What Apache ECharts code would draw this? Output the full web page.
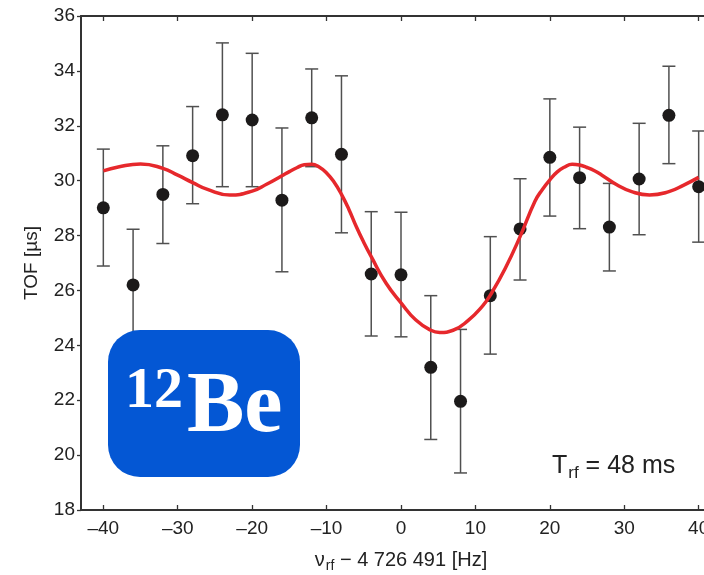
<!DOCTYPE html>
<html>
<head>
<meta charset="utf-8">
<script src="https://cdn.jsdelivr.net/npm/echarts@6/dist/echarts.min.js"></script>
<style>
html,body{margin:0;padding:0;background:#fff;}
#chart{width:704px;height:575px;}
</style>
</head>
<body>
<div id="chart"></div>
<script>
// ---- data ----
const freqOffsets = [-40,-36,-32,-28,-24,-20,-16,-12,-8,-4,0,4,8,12,16,20,24,28,32,36,40];
const tofValues   = [29.01,26.20,29.50,30.91,32.40,32.21,29.29,32.29,30.96,26.60,26.57,23.20,21.96,25.81,28.24,30.85,30.11,28.31,30.06,32.38,29.78];
const tofErrHigh  = [31.15,28.23,31.27,32.70,35.02,34.64,31.92,34.07,33.82,28.87,28.85,25.81,24.58,27.96,30.07,32.98,31.95,29.90,32.09,34.17,31.81];
const tofErrLow   = [26.89,24.20,27.71,29.16,29.78,29.78,26.68,30.51,28.10,24.34,24.31,20.57,19.35,23.68,26.38,28.71,28.25,26.71,28.03,30.62,27.76];

const fitX = [-40,-38,-35,-32,-30,-28,-26,-23,-20,-18,-16,-15,-14,-13,-12,-11,-10,-9,-8,-7,-6,-5,-4,-2,0,2,4,5.2,7,9,11,12,14,16,18,19,20,21,22,23,24,25,26,27,29,31,33.4,36,38,40];
const fitY = [30.36,30.50,30.61,30.45,30.20,29.93,29.68,29.48,29.62,29.88,30.18,30.33,30.47,30.58,30.60,30.50,30.28,29.95,29.50,28.95,28.32,27.75,27.23,26.26,25.55,24.92,24.55,24.47,24.55,24.90,25.45,25.83,26.80,27.96,29.25,29.68,30.03,30.32,30.50,30.60,30.57,30.48,30.36,30.20,29.85,29.60,29.48,29.60,29.84,30.12];

const xTicks = [-40,-30,-20,-10,0,10,20,30,40];
const yTicks = [18,20,22,24,26,28,30,32,34,36];

const xTitle = 'ν';
const xTitleSub = 'rf';
const xTitleRest = ' \u2212 4 726 491 [Hz]';
const yTitle = 'TOF [µs]';
const badgeMass = '12';
const badgeElement = 'Be';
const trfMain = 'T';
const trfSub = 'rf';
const trfRest = ' = 48 ms';

// ---- chart ----
const chart = echarts.init(document.getElementById('chart'), null, {renderer: 'canvas'});
const FONT = '"Liberation Sans", Arial, Helvetica, sans-serif';
const SERIF = '"Liberation Serif", "DejaVu Serif", serif';
const axisColor = '#333';

const errData = freqOffsets.map((x, i) => [x, tofErrLow[i], tofErrHigh[i]]);
const dotData = freqOffsets.map((x, i) => [x, tofValues[i]]);
const fitData = fitX.map((x, i) => [x, fitY[i]]);

const fmtMinus = v => String(v).replace('-', '\u2013');

const option = {
  animation: false,
  backgroundColor: '#fff',
  grid: {left: 81, top: 16, bottom: 65, right: -17, containLabel: false, outerBoundsMode: 'none'},
  xAxis: [{
    type: 'value', min: -43, max: 43, position: 'bottom',
    axisLine: {show: true, onZero: false, lineStyle: {color: axisColor, width: 2}},
    axisTick: {show: true, inside: true, length: 5, customValues: xTicks, lineStyle: {color: axisColor, width: 1.3}},
    axisLabel: {show: true, customValues: xTicks, formatter: fmtMinus, fontSize: 19, color: '#222', fontFamily: FONT, margin: 9},
    splitLine: {show: false},
    name: '{a|' + xTitle + '}{b|' + xTitleSub + '}{a|' + xTitleRest + '}',
    nameLocation: 'middle', nameGap: 37,
    nameTextStyle: {
      rich: {
        a: {fontSize: 20, fontFamily: FONT, color: '#222'},
        b: {fontSize: 14, fontFamily: FONT, color: '#222', padding: [12, 0, 0, 1]}
      }
    }
  }, {
    type: 'value', min: -43, max: 43, position: 'top',
    axisLine: {show: true, onZero: false, lineStyle: {color: axisColor, width: 2}},
    axisTick: {show: true, inside: true, length: 5, customValues: xTicks, lineStyle: {color: axisColor, width: 1.3}},
    axisLabel: {show: false},
    splitLine: {show: false}
  }],
  yAxis: [{
    type: 'value', min: 18, max: 36, interval: 2, position: 'left',
    axisLine: {show: true, onZero: false, lineStyle: {color: axisColor, width: 2}},
    axisTick: {show: true, inside: false, length: 4, lineStyle: {color: axisColor, width: 1.3}},
    axisLabel: {show: true, fontSize: 19, color: '#222', fontFamily: FONT, margin: 6},
    splitLine: {show: false},
    name: yTitle, nameLocation: 'middle', nameGap: 40,
    nameTextStyle: {fontSize: 19, fontFamily: FONT, color: '#222'}
  }, {
    type: 'value', min: 18, max: 36, interval: 2, position: 'right',
    axisLine: {show: true, onZero: false, lineStyle: {color: axisColor, width: 2}},
    axisTick: {show: false}, axisLabel: {show: false}, splitLine: {show: false}
  }],
  series: [{
    type: 'custom',
    name: 'err',
    data: errData,
    z: 2,
    renderItem: function (params, api) {
      const x = api.value(0);
      const lo = api.coord([x, api.value(1)]);
      const hi = api.coord([x, api.value(2)]);
      const w = 6.5;
      const st = {stroke: '#505050', lineWidth: 1.5};
      return {
        type: 'group',
        children: [
          {type: 'line', shape: {x1: lo[0], y1: lo[1], x2: hi[0], y2: hi[1]}, style: st},
          {type: 'line', shape: {x1: hi[0] - w, y1: hi[1], x2: hi[0] + w, y2: hi[1]}, style: st},
          {type: 'line', shape: {x1: lo[0] - w, y1: lo[1], x2: lo[0] + w, y2: lo[1]}, style: st}
        ]
      };
    }
  }, {
    type: 'scatter',
    data: dotData,
    symbol: 'circle',
    symbolSize: 13,
    itemStyle: {color: '#1c1a1a', opacity: 1},
    z: 3
  }, {
    type: 'line',
    data: fitData,
    showSymbol: false,
    symbol: 'none',
    smooth: 0.5,
    lineStyle: {color: '#e6282c', width: 3.5},
    z: 4
  }],
  graphic: [{
    type: 'group',
    z: 100,
    children: [{
      type: 'rect',
      shape: {x: 108, y: 330, width: 192, height: 147, r: 32},
      style: {fill: '#0457d4'},
      z: 100
    }, {
      type: 'text',
      x: 125, y: 392,
      style: {text: badgeMass, font: 'bold 58px ' + SERIF, fill: '#fff', verticalAlign: 'middle', align: 'left'},
      z: 101
    }, {
      type: 'text',
      x: 187, y: 409,
      style: {text: badgeElement, font: 'bold 86px ' + SERIF, fill: '#fff', verticalAlign: 'middle', align: 'left'},
      z: 101
    }]
  }, {
    type: 'text',
    x: 552, y: 466,
    z: 100,
    style: {
      text: '{a|' + trfMain + '}{b|' + trfSub + '}{a|' + trfRest + '}',
      verticalAlign: 'middle',
      align: 'left',
      rich: {
        a: {fontSize: 25, fontFamily: FONT, fill: '#222', color: '#222'},
        b: {fontSize: 17, fontFamily: FONT, fill: '#222', color: '#222', padding: [14, 0, 0, 1]}
      }
    }
  }]
};
chart.setOption(option);
</script>
</body>
</html>
